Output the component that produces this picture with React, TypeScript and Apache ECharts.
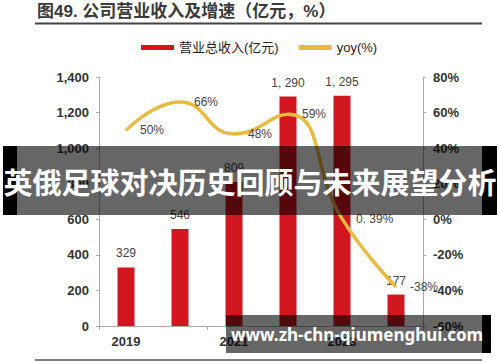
import React, { useEffect, useRef } from "react";
import * as echarts from "echarts";

const categories = ["2019", "2020", "2021", "2022", "2023", "2024Q1"];
const revenue = [329, 546, 809, 1290, 1295, 177];
const yoy = [50, 66, 48, 59, 0.39, -38];
const yoyLabels = ["50%", "66%", "48%", "59%", "0. 39%", "-38%"];
const revenueLabels = ["329", "546", "809", "1, 290", "1, 295", "177"];
const leftTicks = { min: 0, max: 1400, interval: 200 };
const rightTicks = { min: -60, max: 80, interval: 20 };

const titleText = "图49. 公司营业收入及增速（亿元，%）";
const bannerText = "英俄足球对决历史回顾与未来展望分析";
const urlText = "www.zh-chn-qiumenghui.com";

const FONT = "'Liberation Sans', 'Noto Sans CJK SC', sans-serif";
const CJK = "'Noto Sans CJK SC', sans-serif";
const LINE_COLOR = "#E8BA3E";

export default function App() {
  const ref = useRef<HTMLDivElement>(null);
  useEffect(() => {
    if (!ref.current) return;
    const chart = echarts.init(ref.current, null, { renderer: "svg" });
    chart.setOption({
      animation: false,
      backgroundColor: "#ffffff",
      textStyle: { fontFamily: FONT },
      legend: {
        left: 141,
        top: 41,
        padding: 0,
        itemWidth: 33,
        itemHeight: 5,
        itemGap: 20,
        textStyle: { fontSize: 13, color: "#222", fontFamily: FONT },
        data: [
          { name: "营业总收入(亿元)", icon: "rect" },
          { name: "yoy(%)", icon: "roundRect", itemStyle: { color: LINE_COLOR } },
        ],
      },
      grid: { left: 99, right: 77, top: 77, height: 249 },
      xAxis: {
        type: "category",
        data: categories,
        axisLine: { lineStyle: { color: "#aaa", width: 1 } },
        axisTick: { show: true, length: 4, lineStyle: { color: "#aaa" } },
        axisLabel: { fontSize: 13, color: "#333", fontWeight: "bold", margin: 9 },
      },
      yAxis: [
        {
          type: "value",
          ...leftTicks,
          axisLine: { show: true, lineStyle: { color: "#aaa" } },
          axisTick: { show: true, length: 3, lineStyle: { color: "#aaa" } },
          splitLine: { show: false },
          axisLabel: {
            fontSize: 13,
            color: "#333",
            fontWeight: "bold",
            margin: 10,
            formatter: (v: number) => v.toLocaleString("en-US"),
          },
        },
        {
          type: "value",
          ...rightTicks,
          axisLine: { show: true, lineStyle: { color: "#aaa" } },
          axisTick: { show: true, length: 3, lineStyle: { color: "#aaa" } },
          splitLine: { show: false },
          axisLabel: {
            fontSize: 13,
            color: "#333",
            fontWeight: "bold",
            margin: 10,
            formatter: (v: number) => v + "%",
          },
        },
      ],
      series: [
        {
          name: "营业总收入(亿元)",
          type: "bar",
          data: revenue,
          barWidth: 17,
          itemStyle: { color: "#D2161F" },
          label: {
            show: true,
            position: "top",
            distance: 8,
            fontSize: 12,
            color: "#444",
            formatter: (p: any) => revenueLabels[p.dataIndex],
          },
        },
        {
          name: "yoy(%)",
          type: "line",
          yAxisIndex: 1,
          data: yoy,
          smooth: 0.5,
          symbol: "circle",
          symbolSize: 0.01,
          showSymbol: true,
          lineStyle: { color: LINE_COLOR, width: 3.5 },
          itemStyle: { color: LINE_COLOR },
          label: {
            show: true,
            position: "right",
            distance: 14,
            fontSize: 12,
            color: "#444",
            formatter: (p: any) => yoyLabels[p.dataIndex],
          },
          z: 3,
        },
      ],
      graphic: [
        {
          type: "text",
          left: 37,
          top: 3,
          style: { text: titleText, fontSize: 17, fontWeight: "bold", fill: "#3a3a3a", fontFamily: FONT },
        },
        { type: "line", shape: { x1: 35, y1: 23.5, x2: 482, y2: 23.5 }, style: { stroke: "#444", lineWidth: 2 } },
        { type: "line", shape: { x1: 35, y1: 360, x2: 482, y2: 360 }, style: { stroke: "#555", lineWidth: 1.5 } },
        { type: "rect", shape: { x: 3, y: 146, width: 14, height: 69 }, style: { fill: "#000" }, z: 100 },
        { type: "rect", shape: { x: 17, y: 146, width: 465, height: 69 }, style: { fill: "rgba(0,0,0,0.6)" }, z: 100 },
        { type: "rect", shape: { x: 482, y: 146, width: 15, height: 69 }, style: { fill: "#000" }, z: 100 },
        {
          type: "text",
          x: 250,
          y: 181,
          z: 101,
          style: {
            text: bannerText,
            fontSize: 29,
            fontWeight: "bold",
            fill: "#fff",
            fontFamily: CJK,
            align: "center",
            verticalAlign: "middle",
          },
        },
        { type: "rect", shape: { x: 226, y: 315, width: 256, height: 38 }, style: { fill: "rgba(0,0,0,0.6)" }, z: 100 },
        { type: "rect", shape: { x: 482, y: 315, width: 9, height: 38 }, style: { fill: "#000" }, z: 100 },
        {
          type: "text",
          x: 357,
          y: 334,
          z: 101,
          style: {
            text: urlText,
            fontSize: 17,
            fontWeight: "bold",
            fill: "#fff",
            fontFamily: "'Noto Sans', sans-serif",
            align: "center",
            verticalAlign: "middle",
          },
        },
      ],
    });
    return () => chart.dispose();
  }, []);
  return (
    <div
      ref={ref}
      style={{ position: "fixed", left: 0, top: 0, width: 500, height: 362 }}
    />
  );
}
